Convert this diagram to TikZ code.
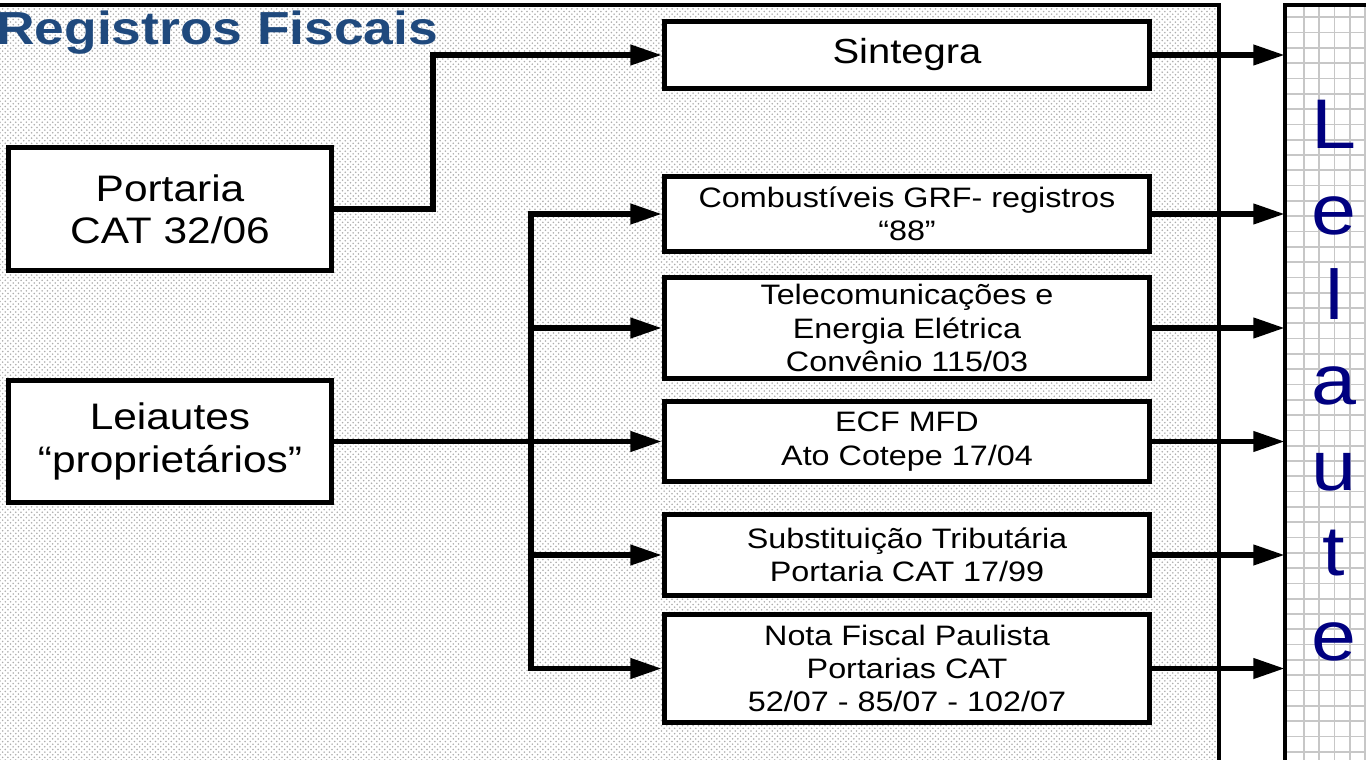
\documentclass[tikz,border=0pt]{standalone}
\usepackage{fontspec}
\setmainfont[FakeStretch=1.15]{Liberation Sans}
\usetikzlibrary{arrows.meta,patterns}

\definecolor{azultitulo}{RGB}{31,73,125}
\definecolor{azulletra}{RGB}{0,0,128}

\begin{document}
\begin{tikzpicture}[x=0.02cm,y=-0.02cm,
  caixa/.style={draw=black,line width=2.8pt,fill=white,align=center,inner sep=0pt,
    minimum width=9.7cm,font=\fontsize{16}{19}\selectfont},
  grande/.style={caixa,minimum width=6.45cm,minimum height=2.45cm,
    font=\fontsize{21}{24}\selectfont},
  seta/.style={line width=3.4pt,-{Triangle[length=18pt,width=11pt]}},
  grade/.style={line width=1pt,color=black!22}]

\useasboundingbox (0,0) rectangle (1366,760);
\clip (0,0) rectangle (1366,760);
\fill[white] (0,0) rectangle (1366,760);

% Panels
\fill[pattern=crosshatch dots,pattern color=black!32] (-20,5) rectangle (1219,800);
\draw[line width=2.4pt] (-20,5) rectangle (1219,800);

\fill[white] (1285,5) rectangle (1400,800);
\foreach \gx in {1303.8,1319.1,...,1370}
  \draw[grade] (\gx,5) -- (\gx,800);
\foreach \gy in {17.3,32.6,...,770}
  \draw[grade] (1285,\gy) -- (1400,\gy);
\draw[line width=2.4pt] (1285,5) rectangle (1400,800);
\coordinate (borda) at (1285,0);

% Title
\node[anchor=base west,inner sep=0pt,text=azultitulo,
  font=\fontsize{26.4}{30}\selectfont\bfseries] (titulo) at (-4,45) {Registros Fiscais};

% Sources
\node[grande] (port) at (170,209) {Portaria\\CAT 32/06};
\node[grande] (leia) at (170,441.5) {Leiautes\\“proprietários”};

% Targets
\node[caixa,minimum height=1.35cm,font=\fontsize{19.8}{23.8}\selectfont] (sint) at (907,55) {Sintegra};
\node[caixa,minimum height=1.5cm] (comb) at (907,214) {Combustíveis GRF- registros\\“88”};
\node[caixa,minimum height=2.02cm] (tele) at (907,328) {Telecomunicações e\\Energia Elétrica\\Convênio 115/03};
\node[caixa,minimum height=1.6cm] (ecf) at (907,441.5) {ECF MFD\\Ato Cotepe 17/04};
\node[caixa,minimum height=1.62cm] (subst) at (907,555) {Substituição Tributária\\Portaria CAT 17/99};
\node[caixa,minimum height=2.16cm] (nota) at (907,668.5) {Nota Fiscal Paulista\\Portarias CAT\\52/07 - 85/07 - 102/07};

% Leiaute
\node[text=azulletra,align=center,inner sep=0pt,
  font=\fontsize{40}{48.6}\selectfont] (leiaute) at (1334,381) {L\\e\\l\\a\\u\\t\\e};

% Links
\draw[seta] (port.east) -- ++(99,0) |- (sint.west);
\draw[seta] (leia.east) -- (ecf.west);
\coordinate (tronco) at (531,0);
\draw[line width=3.4pt,line cap=rect] (tronco |- comb.west) -- (tronco |- nota.west);
\foreach \b in {comb,tele,subst,nota}
  \draw[seta] (tronco |- \b.west) -- (\b.west);

% Outputs
\foreach \b in {sint,comb,tele,ecf,subst,nota}
  \draw[seta] (\b.east) -- (\b.east -| borda);

\end{tikzpicture}
\end{document}
